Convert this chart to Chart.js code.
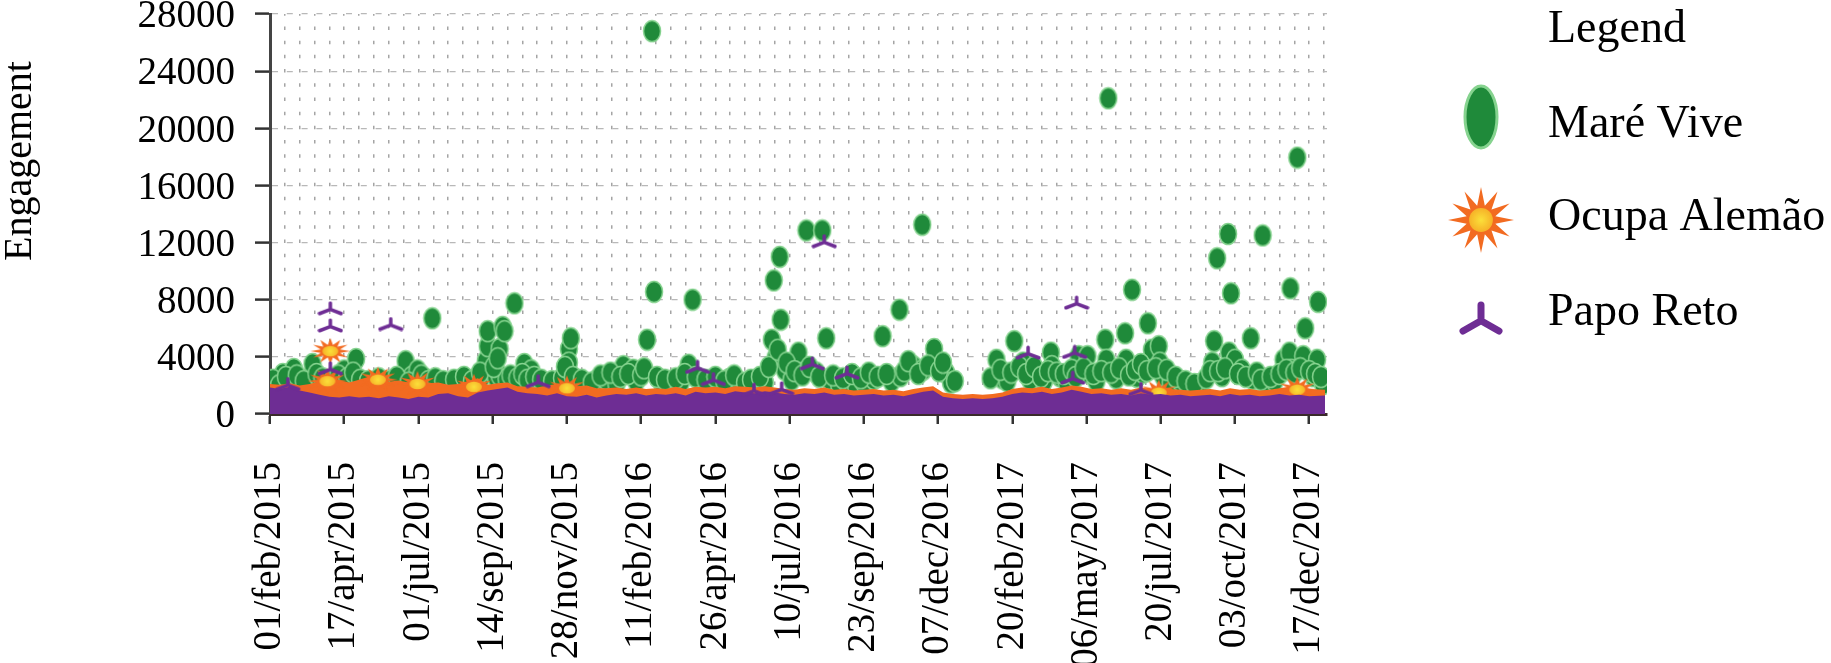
<!DOCTYPE html>
<html>
<head>
<meta charset="utf-8">
<script src="https://cdn.jsdelivr.net/npm/chart.js@4.4.1/dist/chart.umd.min.js"></script>
<style>
  html, body { margin: 0; padding: 0; background: #ffffff; }
  canvas { display: block; }
</style>
</head>
<body>
<canvas id="chart" width="1831" height="663"></canvas>
<script>
// ---------- DATA (x = days since 01/feb/2015) ----------
const tickLabels = ['01/feb/2015','17/apr/2015','01/jul/2015','14/sep/2015','28/nov/2015',
  '11/feb/2016','26/apr/2016','10/jul/2016','23/sep/2016','07/dec/2016',
  '20/feb/2017','06/may/2017','20/jul/2017','03/oct/2017','17/dec/2017'];
const tickStepDays = 75;
const seriesNames = ['Maré Vive', 'Ocupa Alemão', 'Papo Reto'];
const yTitle = 'Engagement';
const legendTitle = 'Legend';

const mareDays = [
  0,5,13,20,24,30,38,43,50,56,
  66,72,75,80,87,95,105,115,125,132,
  137,143,149,157,164,170,180,192,200,208,
  214,218,220,220,224,228,232,232,235,237,
  239,247,247,252,257,264,270,280,291,300,
  302,302,304,310,320,330,339,350,357,367,
  370,381,386,388,395,405,415,423,427,435,
  445,455,464,475,490,500,507,509,511,515,
  516,520,527,534,542,552,558,562,565,575,
  583,592,600,610,619,628,636,637,650,659,
  660,671,683,688,734,740,745,752,761,768,
  775,782,789,790,798,805,817,826,827,835,
  844,845,847,855,864,865,871,876,882,887,
  891,898,899,902,910,920,928,940,952,954,
  957,962,968,969,971,975,982,991,993,1003,
  1006,1015,1024,1030,1031,1032,1038,1044,1046,1054,
  1058,1059,1064,
  3,9,16,27,34,47,53,63,69,78,
  84,91,99,110,120,128,140,153,160,167,
  175,186,196,204,212,226,230,243,250,255,
  260,267,274,285,295,298,306,315,325,334,
  344,354,362,375,378,391,399,410,419,430,
  440,450,459,469,480,486,495,504,513,522,
  530,538,545,555,569,579,588,597,605,614,
  623,641,645,655,665,676,680,692,728,738,
  749,757,764,772,779,786,795,802,810,814,
  822,832,840,850,858,868,874,880,886,895,
  906,915,925,934,946,950,958,965,978,986,
  997,1001,1011,1020,1027,1035,1041,1050,1056,1062];
const mareValues = [
  1900,2200,2800,2300,3150,2100,2450,3500,2200,2000,
  2100,2350,3050,2100,3850,2000,2100,2000,1900,2300,
  3700,2600,3050,2450,6700,2100,2000,2300,2100,2400,
  2600,3700,4750,5800,3000,2600,4550,2700,6100,5800,
  2450,2200,7750,2100,3500,3050,2300,2100,2100,2800,
  4550,3600,5300,2200,2000,2350,2450,2100,3350,3100,
  2300,5200,26800,8550,2300,2000,2200,3450,8000,2300,
  2300,2000,2450,2100,2000,2200,5200,9350,3950,11000,
  6600,3100,2400,4300,12850,2900,12850,5300,2450,2100,
  2200,2000,2200,2450,5450,2300,7300,2650,3350,13250,
  3100,4550,2900,2200,3800,2500,2300,5100,3600,2400,
  2900,2300,4300,3350,2650,2200,4050,4050,2900,2300,
  5200,3800,22100,2500,5650,3800,8700,2600,2900,6350,
  4500,4750,3600,2700,2200,2300,2000,2100,3600,5100,
  10900,2650,12600,4300,8450,3800,3100,5300,2450,12500,
  2200,2300,3800,4300,8800,3100,17950,4050,6000,2650,
  3800,7850,2100,
  2400,2000,2600,2700,2300,2800,2500,2300,2700,2500,
  2900,2400,2300,2500,2300,2600,2200,2700,2300,2500,
  2300,2400,2600,2300,2900,3300,3900,2700,2500,2800,
  2400,2600,2400,2300,2500,3300,2600,2400,2200,2700,
  2900,2600,2800,2700,3200,2600,2400,2500,2800,2600,
  2400,2600,2300,2700,2200,2400,2600,3300,4500,3600,
  3000,2700,3300,2600,2700,2500,2800,2500,2900,2600,
  2800,3000,3700,2800,3400,3000,3600,2300,2500,3100,
  2900,3300,2800,3300,2600,3000,2900,2800,3100,2600,
  3200,2800,3000,2900,3200,2700,3100,3500,3000,3200,
  3100,2600,2300,2100,2500,3000,3000,3200,2800,2600,
  2900,2400,2600,2800,3100,2900,3200,3000,2800,2600];

const ocupaDays   = [58, 61, 109, 149, 206, 300, 898, 1038];
const ocupaValues = [2300, 4400, 2400, 2100, 1900, 1800, 1500, 1700];

const papoDays   = [18, 61, 61, 61, 122, 271, 432, 448, 489, 517, 548, 560, 583, 766, 811, 813, 815, 880];
const papoValues = [2100, 7400, 6200, 3200, 6300, 2300, 3300, 2450, 1700, 1800, 3550, 12100, 2900, 4300, 2550, 4350, 7800, 1750];

// dense low-level clutter (envelope)
const bandDays = [
  0,10,20,30,40,50,60,70,80,90,
  100,110,120,130,140,150,160,170,180,190,
  200,210,220,230,240,250,260,270,280,290,
  300,310,320,330,340,350,360,370,380,390,
  400,410,420,430,440,450,460,470,480,490,
  500,510,520,530,540,550,560,570,580,590,
  600,610,620,630,640,650,660,670,680,690,
  700,710,720,730,740,750,760,770,780,790,
  800,810,820,830,840,850,860,870,880,890,
  900,910,920,930,940,950,960,970,980,990,
  1000,1010,1020,1030,1040,1050,1066];
const papoBand = [
  1850,1750,1900,1650,1500,1350,1200,1150,1250,1150,
  1200,1100,1250,1150,1050,1200,1150,1400,1450,1250,
  1150,1500,1650,1750,1850,1550,1450,1400,1300,1450,
  1250,1200,1350,1150,1300,1400,1350,1450,1300,1400,
  1350,1450,1300,1550,1450,1500,1400,1600,1500,1450,
  1600,1500,1400,1350,1450,1400,1500,1350,1400,1300,
  1350,1400,1300,1350,1250,1400,1550,1650,1200,1100,
  1050,1100,1050,1100,1200,1400,1500,1450,1550,1400,
  1500,1700,1550,1400,1450,1350,1400,1300,1450,1350,
  1400,1300,1350,1250,1300,1350,1250,1400,1300,1350,
  1250,1300,1400,1300,1350,1250,1300];
const ocupaBand = [
  2100,2050,2150,2000,2100,2300,2500,2350,2200,2400,
  2600,2500,2250,2350,2200,2450,2150,2200,2050,2100,
  2300,2500,2050,2150,2200,1950,1900,1850,2000,2100,
  2150,1950,2000,1800,1800,1850,1750,1850,1750,1800,
  1750,1900,1750,1900,1850,1900,1800,1950,1900,1850,
  1950,1850,1750,1700,1800,1750,1850,1700,1750,1650,
  1700,1750,1650,1700,1600,1750,1850,1950,1500,1400,
  1350,1400,1350,1400,1500,1750,1850,1800,1900,1750,
  1850,2000,1900,1750,1800,1700,1800,1700,1850,1750,
  1900,1750,1700,1650,1700,1750,1650,1800,1700,1750,
  1650,1700,1800,1900,2000,1750,1700];

// ---------- STYLE ----------
const FONT = "'Liberation Serif', 'Times New Roman', serif";
const GREEN = '#1f8a3a', GREEN_EDGE = '#86d38f';
const ORANGE = '#f26b21';
const PURPLE = '#6e2d94';

function makeCanvas(w, h, draw) {
  const c = document.createElement('canvas');
  c.width = w; c.height = h;
  draw(c.getContext('2d'), w, h);
  return c;
}
function drawEllipse(g, w, h, lw) {
  g.beginPath();
  g.ellipse(w / 2, h / 2, w / 2 - lw, h / 2 - lw, 0, 0, Math.PI * 2);
  g.fillStyle = GREEN; g.fill();
  g.lineWidth = lw; g.strokeStyle = GREEN_EDGE; g.stroke();
}
function drawStar(g, w, h, spikes, inner) {
  const cx = w / 2, cy = h / 2, rx = w / 2 - 1, ry = h / 2 - 1;
  g.beginPath();
  for (let i = 0; i < spikes * 2; i++) {
    const a = -Math.PI / 2 + i * Math.PI / spikes;
    const f = i % 2 === 0 ? 1 : inner;
    g.lineTo(cx + Math.cos(a) * rx * f, cy + Math.sin(a) * ry * f);
  }
  g.closePath();
  g.fillStyle = ORANGE; g.fill();
  const grd = g.createRadialGradient(cx, cy, 0, cx, cy, Math.max(rx, ry) * inner);
  grd.addColorStop(0, '#fbe03a'); grd.addColorStop(1, '#f5a623');
  g.beginPath();
  g.ellipse(cx, cy, rx * inner * 0.8, ry * inner * 0.8, 0, 0, Math.PI * 2);
  g.fillStyle = grd; g.fill();
}
function drawTri(g, w, h, lw) {
  const cx = w / 2, cy = h * 0.58, m = lw / 2 + 0.5;
  g.strokeStyle = PURPLE; g.lineWidth = lw; g.lineCap = 'round'; g.lineJoin = 'round';
  g.beginPath();
  g.moveTo(cx, m); g.lineTo(cx, cy);
  g.moveTo(m, h - m); g.lineTo(cx, cy); g.lineTo(w - m, h - m);
  g.stroke();
}

const ellipseMark = makeCanvas(20, 24, (g, w, h) => drawEllipse(g, w, h, 1.5));
const starMark = makeCanvas(42, 28, (g, w, h) => drawStar(g, w, h, 12, 0.5));
const triMark = makeCanvas(26, 15, (g, w, h) => drawTri(g, w, h, 3.5));
const ellipseLegend = makeCanvas(38, 68, (g, w, h) => drawEllipse(g, w, h, 3));
const starLegend = makeCanvas(68, 68, (g, w, h) => drawStar(g, w, h, 12, 0.45));
const triLegend = makeCanvas(44, 34, (g, w, h) => drawTri(g, w, h, 7));

const toPts = (xs, ys) => xs.map((x, i) => ({ x: x, y: ys[i] }));

const overlay = {
  id: 'overlay',
  afterDraw(chart) {
    const g = chart.ctx;
    g.save();
    g.fillStyle = '#000';
    g.font = '40px ' + FONT;
    g.translate(31, 161);
    g.rotate(-Math.PI / 2);
    g.textAlign = 'center';
    g.textBaseline = 'alphabetic';
    g.fillText(yTitle, 0, 0);
    g.restore();

    g.save();
    g.fillStyle = '#000';
    g.font = '46px ' + FONT;
    g.textAlign = 'left';
    g.textBaseline = 'alphabetic';
    const textX = 1548, markX = 1481;
    g.fillText(legendTitle, textX, 42);
    const marks = [ellipseLegend, starLegend, triLegend];
    const baselines = [137, 230, 325];
    const centers = [117, 220, 318];
    marks.forEach((m, i) => {
      g.drawImage(m, markX - m.width / 2, centers[i] - m.height / 2);
      g.fillText(seriesNames[i], textX, baselines[i]);
    });
    g.restore();
  }
};

new Chart(document.getElementById('chart'), {
  type: 'scatter',
  data: {
    datasets: [
      { label: seriesNames[0], data: toPts(mareDays, mareValues), pointStyle: ellipseMark,
        pointRadius: 10, order: 4 },
      { label: seriesNames[1], data: toPts(ocupaDays, ocupaValues), pointStyle: starMark,
        pointRadius: 10, order: 2 },
      { label: seriesNames[2], data: toPts(papoDays, papoValues), pointStyle: triMark,
        pointRadius: 10, order: 0 },
      { type: 'line', label: 'ocupa-band', data: toPts(bandDays, ocupaBand), fill: 'origin',
        backgroundColor: ORANGE, borderWidth: 0, pointRadius: 0, tension: 0, order: 3 },
      { type: 'line', label: 'papo-band', data: toPts(bandDays, papoBand), fill: 'origin',
        backgroundColor: PURPLE, borderWidth: 0, pointRadius: 0, tension: 0, order: 1 }
    ]
  },
  options: {
    responsive: false,
    animation: false,
    layout: { padding: { top: 14, right: 504, bottom: 0, left: 0 } },
    plugins: { legend: { display: false }, tooltip: { enabled: false } },
    scales: {
      x: {
        type: 'linear', min: 0, max: 1068,
        ticks: {
          stepSize: 15, includeBounds: false, autoSkip: false,
          minRotation: 90, maxRotation: 90, padding: 38, color: '#000',
          font: { family: FONT, size: 39, lineHeight: 1 },
          callback: (v) => (v % tickStepDays === 0 ? tickLabels[v / tickStepDays] : '')
        },
        grid: {
          color: '#a4a4a4', lineWidth: 1.5, tickLength: 10, tickWidth: 2.5,
          tickColor: (c) => (c.tick && c.tick.value % tickStepDays === 0 ? '#333' : 'rgba(0,0,0,0)')
        },
        border: { color: '#3a2a2a', width: 3, dash: [3.5, 10.7], dashOffset: 1.75 },
        afterFit: (s) => { s.height = 249; }
      },
      y: {
        min: 0, max: 28000,
        ticks: {
          stepSize: 1000, autoSkip: false, padding: 20, color: '#000', labelOffset: 3,
          font: { family: FONT, size: 39, lineHeight: 0.5 },
          callback: (v) => (v % 4000 === 0 ? String(v) : '')
        },
        grid: {
          color: (c) => (c.tick && c.tick.value % 4000 === 0 ? '#b8b8b8' : 'rgba(0,0,0,0)'),
          lineWidth: 1.2, tickLength: 15, tickWidth: 2.5,
          tickColor: (c) => (c.tick && c.tick.value % 4000 === 0 ? '#333' : 'rgba(0,0,0,0)')
        },
        border: { color: '#444', width: 3, dash: [6, 8.8] },
        afterFit: (s) => { s.width = 270; s.paddingTop = 0; s.paddingBottom = 0; }
      }
    }
  },
  plugins: [overlay]
});
</script>
</body>
</html>
